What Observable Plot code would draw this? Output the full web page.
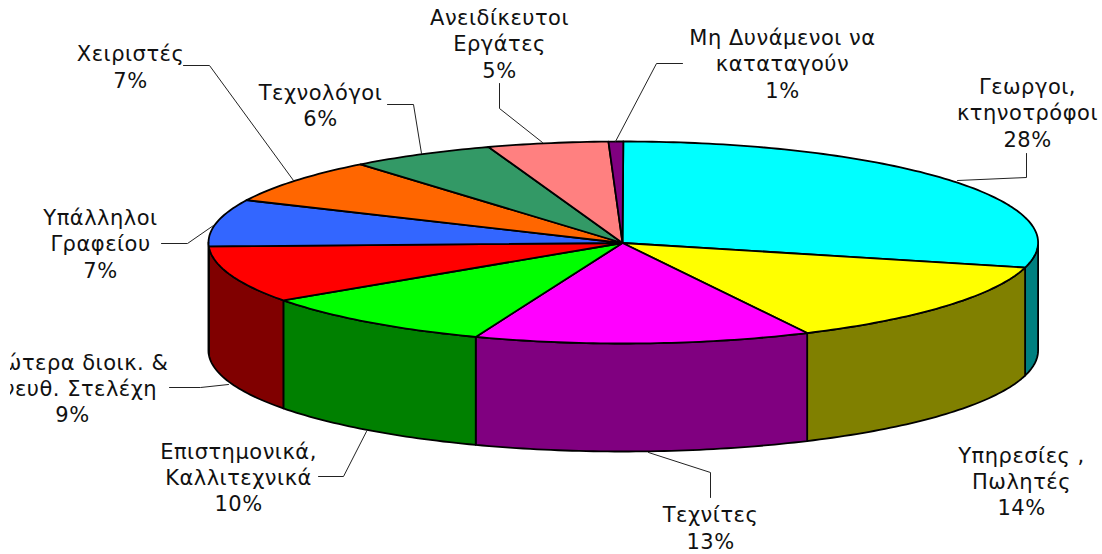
<!DOCTYPE html>
<html>
<head>
<meta charset="utf-8">
<script src="https://cdn.jsdelivr.net/npm/d3@7"></script>
<script src="https://cdn.jsdelivr.net/npm/@observablehq/plot@0.6"></script>
<style>html,body{margin:0;padding:0;background:#fff}svg{display:block}</style>
</head>
<body>
<div id="chart"></div>
<script>
// Data, in drawing order (clockwise from 12 o'clock)
const categories = ["Γεωργοι,\nκτηνοτρόφοι","Υπηρεσίες ,\nΠωλητές","Τεχνίτες","Επιστημονικά,\nΚαλλιτεχνικά","Ανώτερα διοικ. &\nΑνευθ. Στελέχη","Υπάλληλοι\nΓραφείου","Χειριστές","Τεχνολόγοι","Ανειδίκευτοι\nΕργάτες","Μη Δυνάμενοι να\nκαταταγούν"];
const percentLabels = ["28%","14%","13%","10%","9%","7%","7%","6%","5%","1%"];
const shares = [29.0,13.7,13.1,9.5,9.1,7.5,7.2,5.65,4.7,0.57];
const topColors = ["#00FFFF","#FFFF00","#FF00FF","#00FF00","#FF0000","#3366FF","#FF6600","#339966","#FF8080","#800080"];
const sideColors = ["#008080","#808000","#800080","#008000","#800000","#1A3380","#803300","#1A4D33","#804040","#400040"];

// Layout
const W = 1102, H = 554;
const pie = {cx: 622.8, cy: 242, rx: 414.8, ry: 101, depth: 108};
const labelX = [1027,1021,710,238,72,100,130,320,499,782];
const labelY = [111.5,480,526.5,476,387,242.5,65.5,104,42.5,62.5];
const leaders = [
  [[1026,153],[1026,177],[957,180]],
  null,
  [[710,497],[710,472],[648,452]],
  [[318,476],[343,476],[366,431]],
  [[169,387],[200,387],[228,384]],
  [[161,243],[187,243],[213,225]],
  [[183,65],[209,65],[293,180]],
  [[387,104],[413,104],[421,153]],
  [[499,83],[499,108],[542,142]],
  [[682,63],[656,63],[615,141]]
];

const total = d3.sum(shares);
const rim = (deg, dy = 0) => {
  const t = deg * Math.PI / 180;
  return {x: pie.cx + pie.rx * Math.sin(t), y: pie.cy - pie.ry * Math.cos(t) + dy};
};
const arc = (a, b, dy = 0) => {
  const n = Math.max(2, Math.ceil(Math.abs(b - a)));
  return d3.range(n + 1).map(i => rim(a + (b - a) * i / n, dy));
};

const topPts = [], sidePts = [];
let acc = 0;
shares.forEach((s, i) => {
  const a = acc / total * 360;
  acc += s;
  const b = acc / total * 360;
  const apex = {x: 622, y: 242.5};
  [apex, ...arc(a, b), apex].forEach(p => topPts.push({...p, k: i, fill: topColors[i]}));
  const a2 = Math.max(a, 90), b2 = Math.min(b, 270);
  if (b2 > a2) {
    const ring = [...arc(a2, b2), ...arc(b2, a2, pie.depth)];
    [...ring, ring[0]].forEach(p => sidePts.push({...p, k: i, fill: sideColors[i]}));
  }
});
const leaderPts = leaders.flatMap((l, i) => l ? l.map(([x, y]) => ({x, y, k: i})) : []);
const labels = categories.map((c, i) => ({text: c + "\n" + percentLabels[i], x: labelX[i], y: labelY[i], i}));
const textOpts = {x: "x", y: "y", text: "text", fontSize: 21, lineHeight: 1.26, lineAnchor: "middle", textAnchor: "middle", fill: "#111", clip: "frame"};

const chart = Plot.plot({
  width: W, height: H,
  marginLeft: 10, marginRight: 0, marginTop: 0, marginBottom: 0,
  x: {type: "identity", axis: null},
  y: {type: "identity", axis: null},
  color: {type: "identity"},
  style: {fontFamily: "'DejaVu Sans', Verdana, sans-serif", background: "#fff", overflow: "hidden", letterSpacing: "0.5px"},
  marks: [
    Plot.line(sidePts, {x: "x", y: "y", z: "k", fill: "fill", stroke: "#000", strokeWidth: 1.8, strokeLinejoin: "round"}),
    Plot.line(topPts, {x: "x", y: "y", z: "k", fill: "fill", stroke: "#000", strokeWidth: 1.8, strokeLinejoin: "round"}),
    Plot.line(leaderPts, {x: "x", y: "y", z: "k", stroke: "#222", strokeWidth: 1}),
    Plot.text(labels, textOpts)
  ]
});
document.getElementById("chart").appendChild(chart);
</script>
</body>
</html>
